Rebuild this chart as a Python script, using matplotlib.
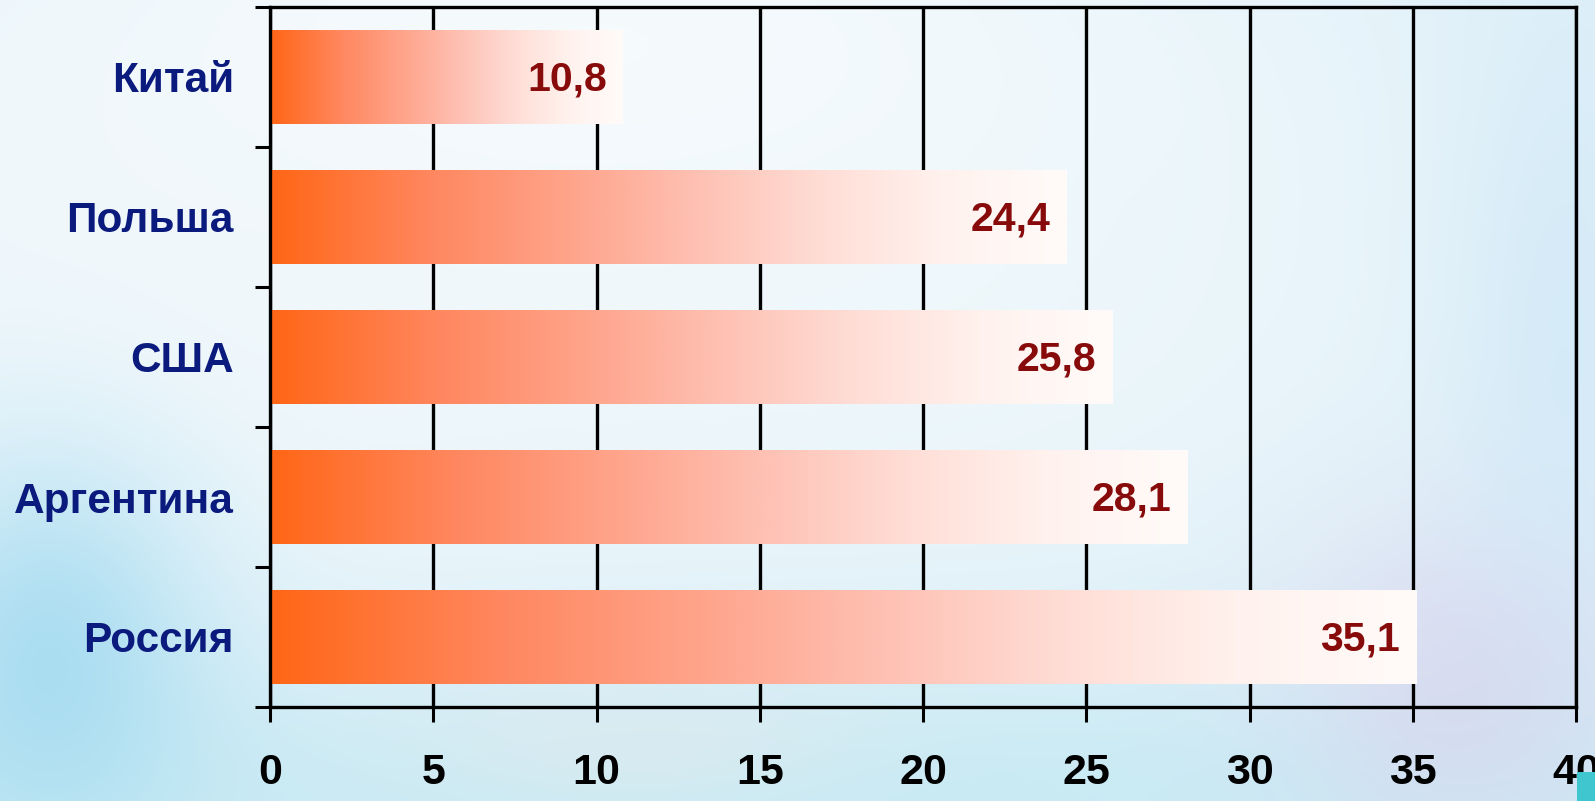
import numpy as np
import matplotlib
matplotlib.use('Agg')
import matplotlib.pyplot as plt
from matplotlib.patches import Rectangle

# data (top to bottom)
countries = ['Китай', 'Польша', 'США', 'Аргентина', 'Россия']
values = [10.8, 24.4, 25.8, 28.1, 35.1]
value_labels = ['10,8', '24,4', '25,8', '28,1', '35,1']
x_ticks = [0, 5, 10, 15, 20, 25, 30, 35, 40]

plt.rcParams['font.family'] = ['Liberation Sans', 'DejaVu Sans']
plt.rcParams['font.weight'] = 'bold'

W, H = 1595, 801
fig = plt.figure(figsize=(W / 100, H / 100), dpi=100)


def make_background(h=200, w=400):
    """Soft light-blue slide backdrop built from a few smooth blobs."""
    yy, xx = np.mgrid[0:1:h * 1j, 0:1:w * 1j]
    img = np.ones((h, w, 3)) * np.array([220, 239, 248]) / 255.0
    blobs = [
        # (cx, cy, sx, sy, colour, strength)
        (0.35, 0.10, 0.35, 0.30, (249, 252, 254), 0.95),
        (0.10, 0.35, 0.20, 0.30, (242, 248, 252), 0.85),
        (0.55, 0.45, 0.30, 0.25, (240, 248, 251), 0.7),
        (0.50, 1.00, 0.60, 0.12, (192, 232, 242), 0.7),
        (0.03, 0.82, 0.07, 0.18, (150, 214, 238), 0.7),
        (0.92, 0.85, 0.08, 0.15, (218, 208, 236), 0.6),
        (0.98, 0.40, 0.05, 0.30, (200, 228, 246), 0.5),
        (0.40, 0.93, 0.10, 0.06, (228, 234, 238), 0.5),
    ]
    for cx, cy, sx, sy, col, k in blobs:
        m = k * np.exp(-((xx - cx) ** 2 / (2 * sx ** 2) + (yy - cy) ** 2 / (2 * sy ** 2)))
        img = img * (1 - m[..., None]) + np.array(col)[None, None, :] / 255.0 * m[..., None]
    return np.clip(img, 0, 1)


bg = fig.add_axes([0, 0, 1, 1], zorder=-1)
bg.imshow(make_background(), aspect='auto', extent=[0, 1, 0, 1], interpolation='bilinear')
bg.set_axis_off()

ax = fig.add_axes([270 / W, 1 - 707 / H, (1576 - 270) / W, (707 - 7) / H])
ax.patch.set_alpha(0)

y_pos = np.arange(len(countries))
bar_h = 0.67
bars = ax.barh(y_pos, values, height=bar_h, color='none', edgecolor='none', zorder=2)

# orange -> salmon -> white gradient along each bar
stop_t = [0.0, 0.2, 0.4, 0.55, 0.7, 0.85, 1.0]
stop_rgb = np.array([(255, 102, 22), (255, 135, 95), (254, 168, 145), (254, 195, 182),
                     (255, 222, 215), (255, 242, 238), (255, 251, 249)]) / 255.0
t = np.linspace(0, 1, 256)
grad = np.stack([np.interp(t, stop_t, stop_rgb[:, c]) for c in range(3)], axis=-1)[None, :, :]
for b in bars:
    x0, y0 = b.get_x(), b.get_y()
    ax.imshow(grad, aspect='auto', extent=[x0, x0 + b.get_width(), y0, y0 + b.get_height()],
              interpolation='bilinear', zorder=2)

for yv, v, lab in zip(y_pos, values, value_labels):
    ax.annotate(lab, xy=(v, yv), xytext=(-11.5, -1.5), textcoords='offset points',
                ha='right', va='center', fontsize=29.5, fontweight='bold',
                color='#870b0b', zorder=3)

ax.set_xlim(0, 40)
ax.set_ylim(len(countries) - 0.5, -0.5)
ax.set_xticks(x_ticks)
ax.set_xticklabels([str(v) for v in x_ticks])
ax.set_yticks(np.arange(-0.5, len(countries), 1.0))
ax.set_yticklabels([])
ax.set_yticks(y_pos, minor=True)
ax.set_yticklabels(countries, minor=True)

ax.grid(axis='x', color='black', linewidth=2.4, zorder=1)
ax.set_axisbelow(True)
for side in ['left', 'bottom', 'top', 'right']:
    ax.spines[side].set_linewidth(2.4)
    ax.spines[side].set_color('black')

ax.tick_params(axis='x', which='major', direction='out', length=11, width=2.2,
               labelsize=31, pad=22, colors='black')
ax.tick_params(axis='y', which='major', direction='out', length=11, width=2.2)
ax.tick_params(axis='y', which='minor', length=0, pad=26, labelsize=30.5,
               labelcolor='#0b1a7d')
for lbl in ax.get_xticklabels() + ax.get_yticklabels(minor=True):
    lbl.set_fontweight('bold')

# small cyan slide marker in the bottom-right corner
fig.patches.append(Rectangle((1577 / W, 0), 18 / W, 29 / H, transform=fig.transFigure,
                             facecolor='#3fc6cf', edgecolor='none', zorder=5))

fig.savefig('out.png', dpi=100)
